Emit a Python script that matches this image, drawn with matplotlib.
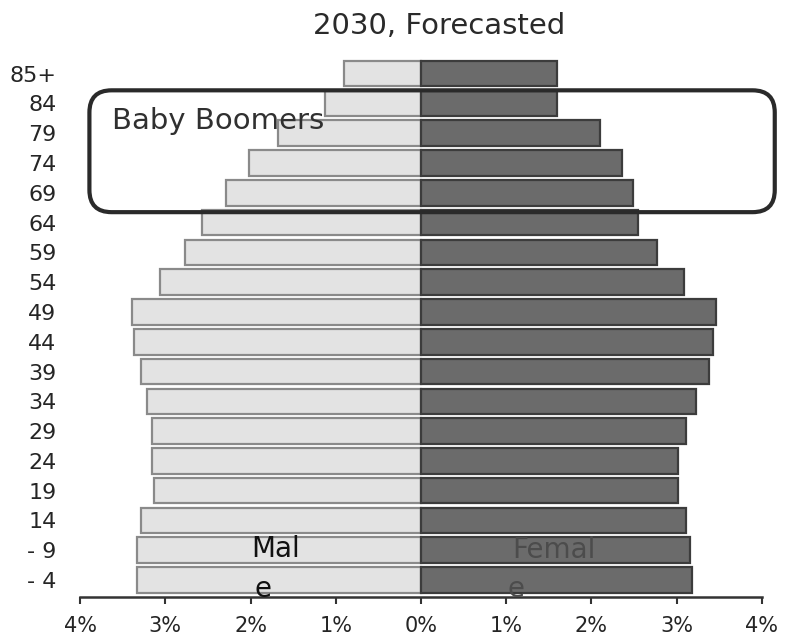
import matplotlib.pyplot as plt
from matplotlib.patches import FancyBboxPatch

plt.rcParams['font.family'] = ['DejaVu Sans']

# Age groups, youngest first (labels as they appear on the axis)
age_labels = ['- 4', '- 9', '14', '19', '24', '29', '34', '39', '44', '49',
              '54', '59', '64', '69', '74', '79', '84', '85+']
male = [3.33, 3.33, 3.29, 3.13, 3.15, 3.15, 3.22, 3.29, 3.37, 3.39,
        3.06, 2.77, 2.57, 2.29, 2.02, 1.68, 1.13, 0.90]
female = [3.18, 3.15, 3.11, 3.01, 3.01, 3.11, 3.23, 3.38, 3.43, 3.46,
          3.09, 2.77, 2.55, 2.49, 2.36, 2.10, 1.60, 1.59]
x_ticks = [-4, -3, -2, -1, 0, 1, 2, 3, 4]
x_tick_labels = ['4%', '3%', '2%', '1%', '0%', '1%', '2%', '3%', '4%']

fig = plt.figure(figsize=(7.87, 6.41), dpi=100)
ax = fig.add_axes([0.1017, 0.0686, 0.8665, 0.8444])

pos = list(range(len(age_labels)))
ax.barh(pos, [-m for m in male], height=0.86, color='#e3e3e3',
        edgecolor='#8a8a8a', linewidth=1.6)
ax.barh(pos, female, height=0.86, color='#6b6b6b',
        edgecolor='#3c3c3c', linewidth=1.6)

ax.set_xlim(-4, 4)
ax.set_ylim(-0.57, 17.6)
ax.set_xticks(x_ticks)
ax.set_xticklabels(x_tick_labels, fontsize=15, color='#252525')
ax.set_yticks(pos)
ax.set_yticklabels(age_labels, fontsize=16, color='#252525')
ax.tick_params(axis='y', length=0, pad=17)
ax.tick_params(axis='x', length=5, width=1.5, color='#333333', pad=9)
for side in ['top', 'right', 'left']:
    ax.spines[side].set_visible(False)
ax.spines['bottom'].set_linewidth(1.8)
ax.spines['bottom'].set_color('#333333')

ax.set_title('2030, Forecasted', fontsize=21, color='#2a2a2a', pad=16, x=0.526)

# Rounded frame around the boomer age groups
box = FancyBboxPatch((-3.89, 12.35), 8.04, 4.09,
                     boxstyle='round,pad=0,rounding_size=0.26',
                     fill=False, edgecolor='#2a2a2a', linewidth=3.0,
                     clip_on=False, mutation_aspect=2.86)
ax.add_patch(box)
ax.text(-3.63, 15.4, 'Baby Boomers', fontsize=21, color='#303030',
        va='center', ha='left')

# Series names written on the bars
ax.text(-1.70, 1.04, 'Mal', fontsize=20, color='#111111', ha='center', va='center')
ax.text(-1.85, -0.30, 'e', fontsize=20, color='#111111', ha='center', va='center',
        clip_on=True)
ax.text(1.56, 1.02, 'Femal', fontsize=20, color='#4c4c4c', ha='center', va='center')
ax.text(1.11, -0.30, 'e', fontsize=20, color='#4c4c4c', ha='center', va='center',
        clip_on=True)

plt.savefig('out.png', dpi=100)
